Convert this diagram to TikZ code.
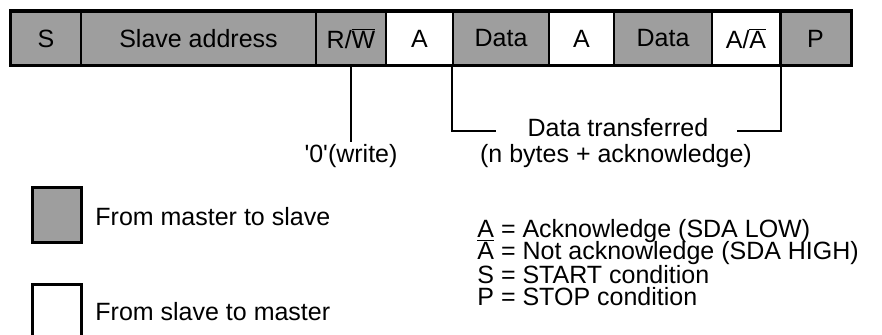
\documentclass[tikz,border=0pt]{standalone}
\usepackage{fontspec}
\setmainfont{Liberation Sans}
\usetikzlibrary{positioning}

\begin{document}
\begin{tikzpicture}[x=0.5pt,y=0.5pt,font=\fontsize{12.5}{14}\selectfont,
  cell/.style={draw,line width=1pt,minimum height=26.5pt,inner sep=0pt},
  mst/.style={cell,fill=black!38},
  slv/.style={cell,fill=white},
  wire/.style={line width=1pt},
  keybox/.style={draw,line width=1.5pt,minimum width=24.5pt,minimum height=27.5pt,inner sep=0pt}]
\useasboundingbox (0,0) rectangle (882,335);
% frame of one transfer
\node[mst,minimum width=35pt] (s) at (46,296.5) {S};
\node[mst,minimum width=117.5pt] (addr) at (198.5,296.5) {Slave address};
\node[mst,minimum width=35pt] (rw) at (351,296.5) {R/$\overline{\mbox{W}}$};
\node[slv,minimum width=33.5pt] (ack1) at (419.5,296.5) {A};
\node[mst,minimum width=48pt] (data1) at (501,296.5) {Data};
\node[slv,minimum width=32.5pt] (ack2) at (581.5,296.5) {A};
\node[mst,minimum width=49pt] (data2) at (663,296.5) {Data};
\node[slv,minimum width=34pt] (ackn) at (746,296.5) {A/$\overline{\mbox{A}}$};
\node[mst,minimum width=35pt] (p) at (815.5,296.5) {P};
\draw[line width=1.5pt] (s.north west) rectangle (p.south east);
% labels under the frame
\node[inner sep=1pt] (wr) at (351,179) {\textquotesingle 0\textquotesingle(write)};
\draw[wire] (rw.south) -- (wr.north);
\node (dt) at (618,207) {Data transferred};
\node (nb) at (616,179) {(n bytes + acknowledge)};
\coordinate (dtl) at (496,204);
\coordinate (dtr) at (737,204);
\draw[wire] (data1.south west) |- (dtl);
\draw[wire] (ackn.south east) |- (dtr);
% key
\node[keybox,fill=black!38] (keym) at (56.5,119.5) {};
\node[keybox,fill=white] (keys) at (56.5,22.5) {};
\node[anchor=west,inner sep=0pt] (keymt) at (95,118) {From master to slave};
\node[anchor=west,inner sep=0pt] (keyst) at (95,23) {From slave to master};
\node[anchor=west,inner sep=0pt] (ka) at (477,104) {\underline{A} = Acknowledge (SDA LOW)};
\node[anchor=west,inner sep=0pt] (kn) at (477,82) {A = Not acknowledge (SDA HIGH)};
\node[anchor=west,inner sep=0pt] (ks) at (477,60) {S = START condition};
\node[anchor=west,inner sep=0pt] (kp) at (477,38) {P = STOP condition};
\end{tikzpicture}
\end{document}
